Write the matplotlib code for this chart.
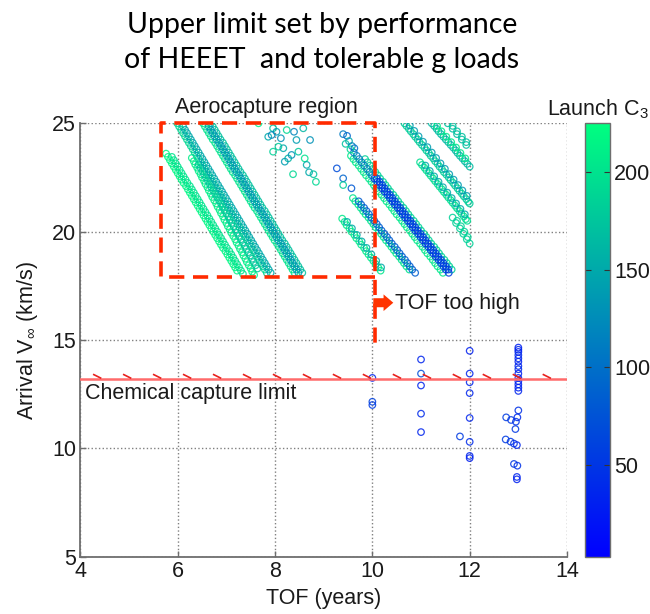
import numpy as np
import matplotlib.pyplot as plt
from matplotlib import cm, colors
from matplotlib.collections import LineCollection

plt.rcParams['font.family'] = ['Liberation Sans', 'DejaVu Sans']
plt.rcParams['mathtext.fontset'] = 'custom'
plt.rcParams['mathtext.rm'] = 'Liberation Sans'
plt.rcParams['mathtext.it'] = 'Liberation Sans:italic'

# ---- data: TOF (years), arrival V_inf (km/s), launch C3 ----
# band 1 (leftmost, light green)
s1a_tof = [5.76, 5.84, 5.92, 6.00, 6.08, 6.17, 6.25, 6.33, 6.41, 6.49, 6.57, 6.65, 6.73, 6.81, 6.89, 6.98, 7.06, 7.14, 7.22,
           5.80, 5.88, 5.96, 6.04, 6.12, 6.21, 6.29, 6.37, 6.45, 6.53, 6.61, 6.69, 6.77, 6.85, 6.93, 7.02, 7.10, 7.18]
s1a_v = [23.6, 23.3, 23.0, 22.7, 22.4, 22.1, 21.8, 21.5, 21.2, 20.9, 20.6, 20.3, 20.0, 19.7, 19.4, 19.1, 18.8, 18.5, 18.2,
         23.45, 23.15, 22.85, 22.55, 22.25, 21.95, 21.65, 21.35, 21.05, 20.75, 20.45, 20.15, 19.85, 19.55, 19.25, 18.95, 18.65, 18.35]
s1a_c3 = 218
s1b_tof = [5.88, 5.96, 6.04, 6.12, 6.20, 6.29, 6.37, 6.45, 6.53, 6.61, 6.69, 6.77, 6.85, 6.93, 7.01, 7.10, 7.18, 7.26, 7.34,
           5.92, 6.00, 6.08, 6.16, 6.25, 6.33, 6.41, 6.49, 6.57, 6.65, 6.73, 6.81, 6.89, 6.97, 7.06, 7.14, 7.22, 7.30]
s1b_v = [23.45, 23.15, 22.85, 22.55, 22.25, 21.95, 21.65, 21.35, 21.05, 20.75, 20.45, 20.15, 19.85, 19.55, 19.25, 18.95, 18.65, 18.35, 18.05,
         23.3, 23.0, 22.7, 22.4, 22.1, 21.8, 21.5, 21.2, 20.9, 20.6, 20.3, 20.0, 19.7, 19.4, 19.1, 18.8, 18.5, 18.2]
s1b_c3 = 200

# band 2 (two merged strands)
s2a_tof = [5.99, 6.07, 6.15, 6.23, 6.31, 6.39, 6.47, 6.55, 6.63, 6.71, 6.79, 6.87, 6.95, 7.03, 7.11, 7.19, 7.27, 7.35, 7.43, 7.51, 7.59, 7.67, 7.75, 7.83,
           6.03, 6.11, 6.19, 6.27, 6.35, 6.43, 6.51, 6.59, 6.67, 6.75, 6.83, 6.91, 6.99, 7.07, 7.15, 7.23, 7.31, 7.39, 7.47, 7.55, 7.63, 7.71, 7.79]
s2a_v = [25.0, 24.7, 24.4, 24.1, 23.8, 23.5, 23.2, 22.9, 22.6, 22.3, 22.0, 21.7, 21.4, 21.1, 20.8, 20.5, 20.2, 19.9, 19.6, 19.3, 19.0, 18.7, 18.4, 18.1,
         24.85, 24.55, 24.25, 23.95, 23.65, 23.35, 23.05, 22.75, 22.45, 22.15, 21.85, 21.55, 21.25, 20.95, 20.65, 20.35, 20.05, 19.75, 19.45, 19.15, 18.85, 18.55, 18.25]
s2a_c3 = 190
s2b_tof = [6.11, 6.19, 6.27, 6.35, 6.43, 6.51, 6.59, 6.67, 6.75, 6.83, 6.91, 6.99, 7.07, 7.15, 7.23, 7.31, 7.39, 7.47, 7.55, 7.63, 7.71, 7.79, 7.87,
           6.15, 6.23, 6.31, 6.39, 6.47, 6.55, 6.63, 6.71, 6.79, 6.87, 6.95, 7.03, 7.11, 7.19, 7.27, 7.35, 7.43, 7.51, 7.59, 7.67, 7.75, 7.83, 7.91]
s2b_v = [24.85, 24.55, 24.25, 23.95, 23.65, 23.35, 23.05, 22.75, 22.45, 22.15, 21.85, 21.55, 21.25, 20.95, 20.65, 20.35, 20.05, 19.75, 19.45, 19.15, 18.85, 18.55, 18.25,
         24.7, 24.4, 24.1, 23.8, 23.5, 23.2, 22.9, 22.6, 22.3, 22.0, 21.7, 21.4, 21.1, 20.8, 20.5, 20.2, 19.9, 19.6, 19.3, 19.0, 18.7, 18.4, 18.1]
s2b_c3 = 150
s2c_tof = [6.29, 6.36, 6.43, 6.50, 6.57, 6.64, 6.71, 6.79, 6.86, 6.93, 7.00, 7.07, 7.14, 7.21, 7.28, 7.35, 7.42, 7.50, 7.57,
           6.33, 6.40, 6.47, 6.54, 6.61, 6.68, 6.75, 6.82, 6.89, 6.96, 7.03, 7.10, 7.18, 7.25, 7.32, 7.39, 7.46, 7.53]
s2c_v = [23.4, 23.1, 22.8, 22.5, 22.2, 21.9, 21.6, 21.3, 21.0, 20.7, 20.4, 20.1, 19.8, 19.5, 19.2, 18.9, 18.6, 18.3, 18.0,
         23.25, 22.95, 22.65, 22.35, 22.05, 21.75, 21.45, 21.15, 20.85, 20.55, 20.25, 19.95, 19.65, 19.35, 19.05, 18.75, 18.45, 18.15]
s2c_c3 = 210
s2d_tof = [6.43, 6.51, 6.58, 6.66, 6.73, 6.81, 6.89, 6.96, 7.04, 7.11, 7.19, 7.26, 7.34, 7.41, 7.49, 7.56, 7.64,
           6.47, 6.54, 6.62, 6.69, 6.77, 6.85, 6.92, 7.00, 7.07, 7.15, 7.22, 7.30, 7.38, 7.45, 7.53, 7.60]
s2d_v = [23.1, 22.8, 22.5, 22.2, 21.9, 21.6, 21.3, 21.0, 20.7, 20.4, 20.1, 19.8, 19.5, 19.2, 18.9, 18.6, 18.3,
         22.95, 22.65, 22.35, 22.05, 21.75, 21.45, 21.15, 20.85, 20.55, 20.25, 19.95, 19.65, 19.35, 19.05, 18.75, 18.45]
s2d_c3 = 175

# band 3 (thick, teal core)
s3a_tof = [6.52, 6.60, 6.68, 6.77, 6.85, 6.93, 7.01, 7.09, 7.18, 7.26, 7.34, 7.42, 7.50, 7.58, 7.67, 7.75, 7.83, 7.91, 7.99, 8.08, 8.16, 8.24, 8.32, 8.40,
           6.56, 6.64, 6.72, 6.81, 6.89, 6.97, 7.05, 7.13, 7.22, 7.30, 7.38, 7.46, 7.54, 7.63, 7.71, 7.79, 7.87, 7.95, 8.04, 8.12, 8.20, 8.28, 8.36]
s3a_v = s2a_v
s3a_c3 = 200
s3b_tof = [6.64, 6.72, 6.80, 6.89, 6.97, 7.05, 7.13, 7.21, 7.30, 7.38, 7.46, 7.54, 7.62, 7.71, 7.79, 7.87, 7.95, 8.03, 8.12, 8.20, 8.28, 8.36, 8.44,
           6.68, 6.76, 6.85, 6.93, 7.01, 7.09, 7.17, 7.26, 7.34, 7.42, 7.50, 7.58, 7.66, 7.75, 7.83, 7.91, 7.99, 8.07, 8.16, 8.24, 8.32, 8.40, 8.48]
s3b_v = s2b_v
s3b_c3 = 135
s3c_tof = [6.68, 6.76, 6.84, 6.93, 7.01, 7.09, 7.17, 7.25, 7.34, 7.42, 7.50, 7.58, 7.66, 7.74, 7.83, 7.91, 7.99, 8.07, 8.15, 8.24, 8.32, 8.40, 8.48, 8.56,
           6.72, 6.80, 6.88, 6.97, 7.05, 7.13, 7.21, 7.29, 7.38, 7.46, 7.54, 7.62, 7.70, 7.79, 7.87, 7.95, 8.03, 8.11, 8.20, 8.28, 8.36, 8.44, 8.52]
s3c_v = s2a_v
s3c_c3 = 170

# scattered cluster near TOF 8-9
mid_tof = [7.66, 7.86, 7.96, 8.03, 8.07, 8.12, 8.17, 8.24, 8.27, 8.34, 8.39, 8.44, 8.48, 8.37, 8.58, 8.61, 8.65, 8.72, 8.70, 8.79, 8.84, 8.20, 7.96, 7.93]
mid_v = [25.0, 24.38, 24.77, 24.61, 23.92, 24.31, 23.85, 24.69, 23.38, 23.54, 24.61, 24.23, 23.69, 22.65, 24.77, 23.38, 23.08, 24.23, 22.74, 22.65, 22.30, 23.23, 23.69, 24.46]
mid_c3 = [210, 150, 170, 140, 180, 130, 150, 190, 160, 130, 120, 140, 175, 190, 160, 200, 150, 130, 150, 170, 190, 140, 185, 120]

# band 4 (crossing TOF = 10, blue core)
s4l_tof = [9.56, 9.66, 9.77, 9.87, 9.98, 10.08, 10.19, 10.29, 10.40, 10.50, 10.61, 10.71, 10.82, 10.92, 11.03, 11.13, 11.24, 11.34, 11.45,
           9.61, 9.72, 9.82, 9.93, 10.03, 10.14, 10.24, 10.35, 10.45, 10.56, 10.66, 10.77, 10.87, 10.98, 11.08, 11.19, 11.29, 11.40]
s4l_v = [23.50, 23.20, 22.90, 22.60, 22.30, 22.00, 21.70, 21.40, 21.10, 20.80, 20.50, 20.20, 19.90, 19.60, 19.30, 19.00, 18.70, 18.40, 18.10,
         23.35, 23.05, 22.75, 22.45, 22.15, 21.85, 21.55, 21.25, 20.95, 20.65, 20.35, 20.05, 19.75, 19.45, 19.15, 18.85, 18.55, 18.25]
s4l_c3 = 205
s4r_tof = [9.85, 9.95, 10.06, 10.16, 10.27, 10.37, 10.48, 10.58, 10.69, 10.79, 10.90, 11.00, 11.11, 11.21, 11.32, 11.42, 11.53, 11.63,
           9.90, 10.01, 10.11, 10.22, 10.32, 10.43, 10.53, 10.64, 10.74, 10.85, 10.95, 11.06, 11.16, 11.27, 11.37, 11.48, 11.58]
s4r_v = [23.35, 23.05, 22.75, 22.45, 22.15, 21.85, 21.55, 21.25, 20.95, 20.65, 20.35, 20.05, 19.75, 19.45, 19.15, 18.85, 18.55, 18.25,
         23.2, 22.9, 22.6, 22.3, 22.0, 21.7, 21.4, 21.1, 20.8, 20.5, 20.2, 19.9, 19.6, 19.3, 19.0, 18.7, 18.4]
s4r_c3 = 185
s4hi_tof = [9.62, 9.68, 9.73, 9.78, 9.83, 9.89, 9.94, 9.99]
s4hi_v = [23.65, 23.50, 23.35, 23.20, 23.05, 22.90, 22.75, 22.60]
s4hi_c3 = 115
s4lo_tof = [10.04, 10.10, 10.15, 10.20, 10.25, 10.31, 10.36, 10.41, 10.46, 10.52, 10.57, 10.62, 10.67, 10.73, 10.78,
            10.83, 10.88, 10.94, 10.99, 11.04, 11.09, 11.15, 11.20, 11.25, 11.30, 11.36, 11.41, 11.46, 11.51, 11.57,
            10.09, 10.15, 10.20, 10.25, 10.30, 10.36, 10.41, 10.46, 10.51, 10.57, 10.62, 10.67, 10.72, 10.78, 10.83,
            10.88, 10.93, 10.99, 11.04, 11.09, 11.14, 11.20, 11.25, 11.30, 11.35, 11.41, 11.46, 11.51, 11.56]
s4lo_v = [22.45, 22.30, 22.15, 22.00, 21.85, 21.70, 21.55, 21.40, 21.25, 21.10, 20.95, 20.80, 20.65, 20.50, 20.35,
          20.20, 20.05, 19.90, 19.75, 19.60, 19.45, 19.30, 19.15, 19.00, 18.85, 18.70, 18.55, 18.40, 18.25, 18.10,
          22.45, 22.30, 22.15, 22.00, 21.85, 21.70, 21.55, 21.40, 21.25, 21.10, 20.95, 20.80, 20.65, 20.50, 20.35,
          20.20, 20.05, 19.90, 19.75, 19.60, 19.45, 19.30, 19.15, 19.00, 18.85, 18.70, 18.55, 18.40, 18.25]
s4lo_c3 = 55
s4g_tof = [9.60, 9.71, 9.81, 9.92, 10.02, 10.13, 10.23, 10.34, 10.44, 10.55, 10.65, 10.76,
           9.65, 9.76, 9.86, 9.97, 10.07, 10.18, 10.28, 10.39, 10.49, 10.60, 10.70]
s4g_v = [21.55, 21.25, 20.95, 20.65, 20.35, 20.05, 19.75, 19.45, 19.15, 18.85, 18.55, 18.25,
         21.4, 21.1, 20.8, 20.5, 20.2, 19.9, 19.6, 19.3, 19.0, 18.7, 18.4]
s4g_c3 = 200
s4b_tof = [9.72, 9.83, 9.93, 10.04, 10.14, 10.25, 10.35, 10.46, 10.56, 10.67, 10.77, 10.88,
           9.77, 9.88, 9.98, 10.09, 10.19, 10.30, 10.40, 10.51, 10.61, 10.72, 10.82]
s4b_v = [21.40, 21.10, 20.80, 20.50, 20.20, 19.90, 19.60, 19.30, 19.00, 18.70, 18.40, 18.10,
         21.25, 20.95, 20.65, 20.35, 20.05, 19.75, 19.45, 19.15, 18.85, 18.55, 18.25]
s4b_c3 = 85
s4c_tof = [9.38, 9.47, 9.57, 9.67, 9.77, 9.87, 9.97, 10.07, 10.17, 9.43, 9.53, 9.63, 9.73, 9.83, 9.92, 10.02, 10.12]
s4c_v = [20.60, 20.30, 20.00, 19.70, 19.40, 19.10, 18.80, 18.50, 18.20, 20.45, 20.15, 19.85, 19.55, 19.25, 18.95, 18.65, 18.35]
s4c_c3 = 205
s4d_tof = [9.48, 9.58, 9.68, 9.78, 9.88, 9.98, 10.08, 10.18]
s4d_v = [20.45, 20.15, 19.85, 19.55, 19.25, 18.95, 18.65, 18.35]
s4d_c3 = 150
b4top_tof = [9.40, 9.48, 9.52, 9.45, 9.58, 9.55, 9.63, 9.27, 9.40, 9.40, 9.57]
b4top_v = [24.50, 24.42, 24.18, 24.05, 23.95, 23.80, 23.85, 22.92, 22.46, 22.15, 22.00]
b4top_c3 = [110, 90, 150, 170, 120, 190, 100, 70, 90, 180, 80]

# band 5 (TOF 10.7 - 12, upper right strands)
s5a_tof = [10.66, 10.75, 10.84, 10.93, 11.02, 11.11, 11.20, 11.29, 11.38, 11.47, 11.57, 11.66, 11.75, 11.84, 11.93, 12.00,
           10.70, 10.79, 10.88, 10.97, 11.07, 11.16, 11.25, 11.34, 11.43, 11.52, 11.61, 11.70, 11.79, 11.88, 11.97]
s5a_v = [25.00, 24.75, 24.50, 24.25, 24.00, 23.75, 23.50, 23.25, 23.00, 22.75, 22.50, 22.25, 22.00, 21.75, 21.50, 21.30,
         24.88, 24.63, 24.38, 24.13, 23.88, 23.63, 23.38, 23.13, 22.88, 22.63, 22.38, 22.13, 21.88, 21.63, 21.38]
s5a_c3 = 180
s5b_tof = [10.77, 10.86, 10.95, 11.04, 11.13, 11.22, 11.31, 11.40, 11.49, 11.58, 11.67, 11.76, 11.85, 11.94]
s5b_v = [24.90, 24.65, 24.40, 24.15, 23.90, 23.65, 23.40, 23.15, 22.90, 22.65, 22.40, 22.15, 21.90, 21.65]
s5b_c3 = 140
s5c_tof = [10.98, 11.07, 11.16, 11.25, 11.34, 11.43, 11.52, 11.61, 11.70, 11.79, 11.88, 11.95,
           11.02, 11.11, 11.20, 11.29, 11.38, 11.47, 11.56, 11.65, 11.74, 11.83, 11.92]
s5c_v = [23.20, 22.95, 22.70, 22.45, 22.20, 21.95, 21.70, 21.45, 21.20, 20.95, 20.70, 20.50,
         23.08, 22.83, 22.58, 22.33, 22.08, 21.83, 21.58, 21.33, 21.08, 20.83, 20.58]
s5c_c3 = 195
s5d_tof = [11.09, 11.18, 11.27, 11.36, 11.45, 11.54, 11.63, 11.72, 11.81, 11.90]
s5d_v = [23.05, 22.80, 22.55, 22.30, 22.05, 21.80, 21.55, 21.30, 21.05, 20.80]
s5d_c3 = 150
s5e_tof = [11.22, 11.32, 11.41, 11.51, 11.61, 11.71, 11.80, 11.90, 12.00, 11.27, 11.36, 11.46, 11.56, 11.66, 11.75, 11.85, 11.95]
s5e_v = [25.00, 24.75, 24.50, 24.25, 24.00, 23.75, 23.50, 23.25, 23.00, 24.88, 24.63, 24.38, 24.13, 23.88, 23.63, 23.38, 23.13]
s5e_c3 = 165
s5f_tof = [11.33, 11.42, 11.52, 11.62, 11.72, 11.81, 11.91]
s5f_v = [24.88, 24.63, 24.38, 24.13, 23.88, 23.63, 23.38]
s5f_c3 = 205
s5g_tof = [11.55, 11.65, 11.74, 11.84, 11.93, 11.65, 11.74, 11.84, 11.93]
s5g_v = [25.0, 24.75, 24.5, 24.25, 24.0, 24.88, 24.63, 24.38, 24.13]
s5g_c3 = 170
s5h_tof = [11.65, 11.72, 11.80, 11.87, 11.94, 12.00, 11.74, 11.82, 11.89, 11.96]
s5h_v = [20.65, 20.40, 20.15, 19.90, 19.65, 19.45, 20.50, 20.25, 20.00, 19.75]
s5h_c3 = 185

# low arrival speed solutions (chemical capture possible)
low_tof = [10.0, 10.0, 10.0, 11.0, 11.0, 11.0, 11.0, 11.0,
           12.0, 12.0, 12.0, 12.0, 12.0, 12.0, 12.0, 12.0, 11.8,
           13.0, 13.0, 13.0, 13.0, 13.0, 13.0, 13.0, 13.0, 13.0, 13.0, 13.0, 13.0, 13.0, 13.0,
           13.0, 12.75, 12.85, 12.95, 12.98, 12.94, 12.74, 12.84, 12.91, 12.97, 12.91, 12.98, 12.97, 12.97]
low_v = [13.25, 12.15, 12.0, 14.1, 13.45, 12.9, 11.6, 10.75,
         14.5, 13.45, 13.05, 12.55, 11.4, 10.3, 9.65, 9.55, 10.55,
         14.65, 14.55, 14.45, 14.3, 14.15, 14.0, 13.8, 13.65, 13.45, 13.25, 13.1, 12.95, 12.8, 12.65,
         11.75, 11.43, 11.31, 11.23, 11.43, 10.89, 10.41, 10.31, 10.22, 10.15, 9.28, 9.2, 8.68, 8.57]
low_c3 = [35, 60, 55, 35, 70, 35, 40, 35,
          30, 35, 35, 35, 35, 40, 35, 30, 55,
          30, 35, 30, 40, 35, 30, 35, 40, 30, 35, 30, 35, 30, 35,
          45, 55, 50, 45, 40, 50, 55, 50, 45, 35, 50, 45, 35, 30]

chem_limit = 13.2
box_tof = [5.65, 10.05]
box_v = [17.9, 25.0]
box_line_end = 14.8
c3_range = [3, 225]

# ---- figure ----
fig = plt.figure(figsize=(6.5, 6.14), dpi=100)
ax = fig.add_axes([80.4 / 650, 1 - 556.7 / 614, 486.6 / 650, 433.4 / 614])
cax = fig.add_axes([585 / 650, 1 - 556.7 / 614, 25 / 650, 433.4 / 614])

norm = colors.Normalize(vmin=c3_range[0], vmax=c3_range[1])
cmap = plt.get_cmap('winter')


def draw(tof, v, c3):
    c3 = np.broadcast_to(np.asarray(c3, dtype=float), (len(tof),))
    ax.scatter(tof, v, s=22, facecolors='none', edgecolors=cmap(norm(c3)),
               linewidths=0.9, alpha=0.85, zorder=3)


# drawing order: green edges first, blue cores on top
draw(s1a_tof, s1a_v, s1a_c3)
draw(s1b_tof, s1b_v, s1b_c3)
draw(s2c_tof, s2c_v, s2c_c3)
draw(s2a_tof, s2a_v, s2a_c3)
draw(s2d_tof, s2d_v, s2d_c3)
draw(s2b_tof, s2b_v, s2b_c3)
draw(s3a_tof, s3a_v, s3a_c3)
draw(s3c_tof, s3c_v, s3c_c3)
draw(s3b_tof, s3b_v, s3b_c3)
draw(mid_tof, mid_v, mid_c3)
draw(s4c_tof, s4c_v, s4c_c3)
draw(s4d_tof, s4d_v, s4d_c3)
draw(s4g_tof, s4g_v, s4g_c3)
draw(s4l_tof, s4l_v, s4l_c3)
draw(s4r_tof, s4r_v, s4r_c3)
draw(s4b_tof, s4b_v, s4b_c3)
draw(s4hi_tof, s4hi_v, s4hi_c3)
draw(s4lo_tof, s4lo_v, s4lo_c3)
draw(b4top_tof, b4top_v, b4top_c3)
draw(s5a_tof, s5a_v, s5a_c3)
draw(s5b_tof, s5b_v, s5b_c3)
draw(s5c_tof, s5c_v, s5c_c3)
draw(s5d_tof, s5d_v, s5d_c3)
draw(s5e_tof, s5e_v, s5e_c3)
draw(s5f_tof, s5f_v, s5f_c3)
draw(s5g_tof, s5g_v, s5g_c3)
draw(s5h_tof, s5h_v, s5h_c3)
draw(low_tof, low_v, low_c3)

ax.set_xlim(4, 14)
ax.set_ylim(5, 25)
ax.set_xticks(range(4, 15, 2))
ax.set_yticks(range(5, 26, 5))
ax.grid(True, linestyle=':', color='#808080', linewidth=1.0)
ax.set_axisbelow(True)
for s in ['top', 'right']:
    ax.spines[s].set_visible(False)
for s in ['left', 'bottom']:
    ax.spines[s].set_color('#6e6e6e')
    ax.spines[s].set_linewidth(1.3)
ax.tick_params(direction='in', length=4, width=1, color='#6e6e6e', labelsize=15.5, pad=3, labelcolor='#1a1a1a')

# chemical capture limit with hatch marks
ax.axhline(chem_limit, color='#ff6b6b', linewidth=1.8, zorder=4)
hx = np.arange(4.26, 14.0, 0.616)
segs = [[(x, chem_limit + 0.22), (x + 0.17, chem_limit + 0.03)] for x in hx]
ax.add_collection(LineCollection(segs, colors='#e8201c', linewidths=1.2, zorder=4))
ax.text(4.09, 12.26, 'Chemical capture limit', fontsize=15.5, color='#1a1a1a', va='baseline', zorder=6)

# aerocapture region box
ax.plot([box_tof[1], box_tof[0], box_tof[0], box_tof[1], box_tof[1]],
        [box_v[0], box_v[0], box_v[1], box_v[1], box_line_end],
        color='#ff2a00', linewidth=2.6, dashes=(4.2, 2.4), clip_on=False, zorder=5)
fig.text(175 / 650, 1 - 113 / 614, 'Aerocapture region', fontsize=15.5, color='#1a1a1a', va='baseline')

# TOF too high arrow
ax.annotate('', xy=(10.43, 16.72), xytext=(10.02, 16.72),
            arrowprops=dict(arrowstyle='simple,head_length=0.7,head_width=1.2,tail_width=0.65',
                            color='#ff3300', lw=0, shrinkA=0, shrinkB=0), zorder=6)
ax.text(10.47, 16.42, 'TOF too high', fontsize=15.5, color='#1a1a1a', va='baseline', zorder=6)

ax.set_xlabel('TOF (years)', fontsize=15.5, color='#1a1a1a')
ax.xaxis.set_label_coords(0.5, -0.072)
ax.set_ylabel('Arrival V$_{\\infty}$ (km/s)', fontsize=15.5, color='#1a1a1a')
ax.yaxis.set_label_coords(-0.083, 0.5)

# colorbar
sm = cm.ScalarMappable(norm=norm, cmap=cmap)
cb = fig.colorbar(sm, cax=cax, ticks=[50, 100, 150, 200])
cb.outline.set_edgecolor('#6e6e6e')
cb.outline.set_linewidth(1.0)
cax.tick_params(direction='in', length=4, left=True, right=True, color='#333333',
                labelsize=15.5, pad=3, labelcolor='#1a1a1a')
fig.text(597.5 / 650, 1 - 115 / 614, 'Launch C$_3$', fontsize=15.5, color='#1a1a1a', ha='center', va='baseline')

# title
fig.text(0.495, 1 - 33 / 614, 'Upper limit set by performance', family='Lato', fontweight='normal',
         fontsize=20.5, ha='center', va='baseline', color='black')
fig.text(0.495, 1 - 68 / 614, 'of HEEET  and tolerable g loads', family='Lato', fontweight='normal',
         fontsize=20.5, ha='center', va='baseline', color='black')

fig.savefig('out.png', dpi=100)
